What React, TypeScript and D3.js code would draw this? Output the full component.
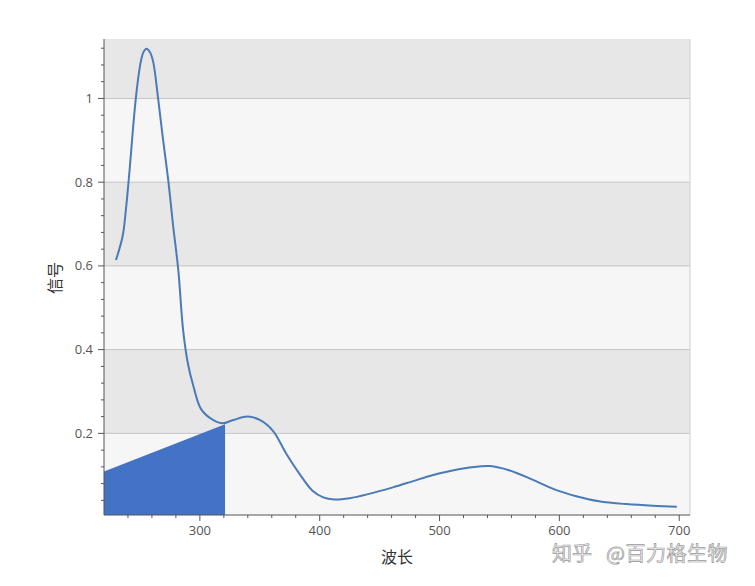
import React from 'react';
import * as d3 from 'd3';

// spectrum
const wavelength = [230, 235.6, 238.3, 240.3, 242.5, 244.4, 247, 249.4, 251, 252.8, 255.5, 258.3, 261, 265, 269, 273.6, 277.8, 282, 286, 290, 294.4, 301, 311, 319, 328, 340, 350, 361, 372, 383, 394, 403, 412, 425, 442, 461, 478, 494, 517, 533, 542, 558, 578, 597, 614, 633, 656, 678, 698];
const signal = [0.614, 0.672, 0.735, 0.795, 0.868, 0.935, 1.012, 1.066, 1.092, 1.11, 1.119, 1.111, 1.088, 1.004, 0.908, 0.805, 0.693, 0.59, 0.447, 0.367, 0.315, 0.258, 0.232, 0.224, 0.232, 0.24, 0.232, 0.206, 0.152, 0.104, 0.063, 0.047, 0.042, 0.045, 0.056, 0.071, 0.086, 0.1, 0.115, 0.121, 0.122, 0.112, 0.089, 0.065, 0.05, 0.038, 0.031, 0.027, 0.025];

// filled region
const fillX = [220, 321];
const fillY = [0.109, 0.222];

const xTicks = [300, 400, 500, 600, 700];
const yTicks = [0.2, 0.4, 0.6, 0.8, 1];
const xMinor = d3.range(240, 709, 20).filter(v => v % 100 !== 0);
const yMinor = d3.range(1, 29).map(i => i * 0.04).filter(v => Math.abs(v * 5 - Math.round(v * 5)) > 1e-6);

const W = 755, H = 586;
const m = { left: 104, right: 690, top: 39, bottom: 515 };
const font = '"Open Sans", "Noto Sans CJK SC", sans-serif';
const cjk = '"Noto Sans CJK SC", sans-serif';

export default function App() {
  const x = d3.scaleLinear().domain([220, 709]).range([m.left, m.right]);
  const y = d3.scaleLinear().domain([0.005, 1.142]).range([m.bottom, m.top]);

  const line = d3.line<number>()
    .x((d, i) => x(wavelength[i]))
    .y(d => y(d))
    .curve(d3.curveCatmullRom.alpha(0.5));

  const area = d3.area<number>()
    .x((d, i) => x(fillX[i]))
    .y0(y.range()[0])
    .y1(d => y(d));

  const bandEdges = [y.domain()[0], ...yTicks, y.domain()[1]];

  return (
    <div style={{ position: 'absolute', left: 0, top: 0 }}>
      <svg width={W} height={H} style={{ display: 'block', background: '#fff' }}>
        {bandEdges.slice(0, -1).map((v, i) => (
          <rect key={'b' + i} x={m.left} width={m.right - m.left}
            y={y(bandEdges[i + 1])} height={y(v) - y(bandEdges[i + 1])}
            fill={i % 2 === 0 ? '#f6f6f6' : '#e7e7e7'} />
        ))}
        {yTicks.map(t => (
          <line key={'g' + t} x1={m.left} x2={m.right} y1={y(t)} y2={y(t)} stroke="#c4c4c4" strokeWidth={1} />
        ))}
        <line x1={m.right} x2={m.right} y1={m.top} y2={m.bottom} stroke="#d0d0d0" />

        <path d={area(fillY) || ''} fill="#4472c4" />
        <path d={line(signal) || ''} fill="none" stroke="#4a7bb7" strokeWidth={2} strokeLinejoin="round" />

        {/* y axis */}
        <line x1={m.left} x2={m.left} y1={m.top} y2={m.bottom} stroke="#555" />
        {yTicks.map(t => (
          <g key={'yt' + t}>
            <line x1={m.left - 6} x2={m.left} y1={y(t)} y2={y(t)} stroke="#555" />
            <text x={m.left - 11} y={y(t)} dy="0.35em" textAnchor="end" fontSize={13} fill="#555" fontFamily={font}>{t}</text>
          </g>
        ))}
        {yMinor.map(t => (
          <line key={'ym' + t} x1={m.left - 3} x2={m.left} y1={y(t)} y2={y(t)} stroke="#555" />
        ))}

        {/* x axis */}
        <line x1={m.left} x2={m.right} y1={m.bottom} y2={m.bottom} stroke="#555" />
        {xTicks.map(t => (
          <g key={'xt' + t}>
            <line x1={x(t)} x2={x(t)} y1={m.bottom} y2={m.bottom + 6} stroke="#555" />
            <text x={x(t)} y={m.bottom + 20} textAnchor="middle" fontSize={13} fill="#555" fontFamily={font}>{t}</text>
          </g>
        ))}
        {xMinor.map(t => (
          <line key={'xm' + t} x1={x(t)} x2={x(t)} y1={m.bottom} y2={m.bottom + 3} stroke="#555" />
        ))}

        <text x={397} y={563} textAnchor="middle" fontSize={16} fill="#333" fontFamily={cjk}>波长</text>
        <text transform="translate(61,278) rotate(-90)" textAnchor="middle" fontSize={16} fill="#333" fontFamily={cjk}>信号</text>

        <g fontSize={20} fill="#f4f4f4" stroke="#9a9a9a" strokeWidth={0.7} fontFamily={cjk}>
          <text x={552} y={561}>知乎</text>
          <text x={606} y={561} letterSpacing={0.5}>@百力格生物</text>
        </g>
      </svg>
    </div>
  );
}
